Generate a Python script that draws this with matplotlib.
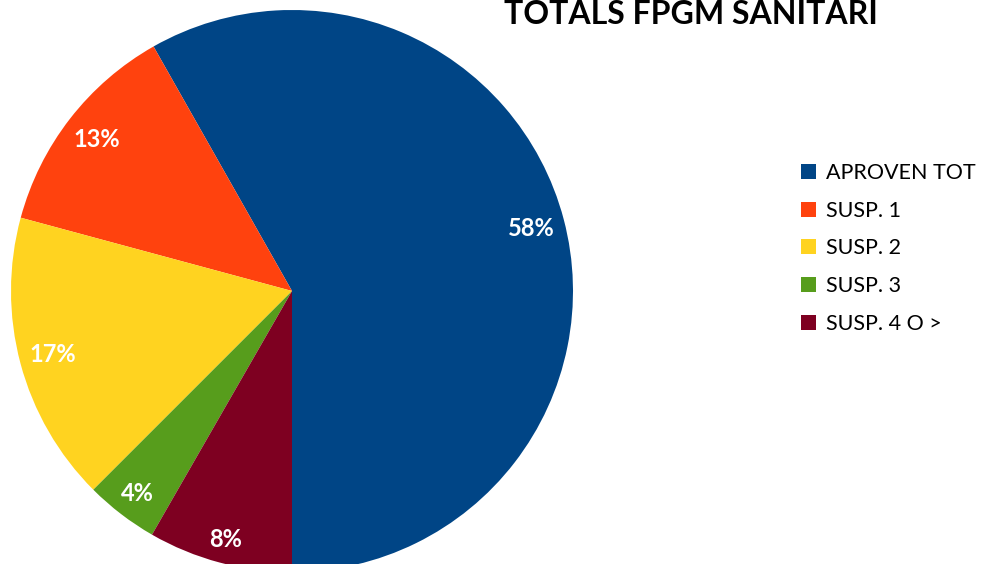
import matplotlib
matplotlib.use("Agg")
import matplotlib.pyplot as plt

categories = ["APROVEN TOT", "SUSP. 1", "SUSP. 2", "SUSP. 3", "SUSP. 4 O >"]
values = [58.2, 12.6, 16.7, 4.2, 8.3]
colors = ["#004586", "#FF420E", "#FFD320", "#579D1C", "#7E0021"]
title = "TOTALS FPGM SANITARI"

W, H = 985, 564
fig = plt.figure(figsize=(W / 100, H / 100), dpi=100)
cx, cy, r = 292, 291, 281
ax = fig.add_axes([(cx - r) / W, (H - cy - r) / H, 2 * r / W, 2 * r / H])

wedges, texts, autotexts = ax.pie(
    values, colors=colors, startangle=270, counterclock=True, radius=1,
    autopct=lambda p: f"{p:.0f}%", pctdistance=0.88,
    wedgeprops=dict(linewidth=0), textprops=dict(color="white", fontsize=17,
                                                  fontweight="bold", family="Lato"))
# small slices' labels sit a little further out
for t, f in zip(autotexts, [1.0, 1.0, 1.0, 1.03, 1.04]):
    x, y = t.get_position()
    t.set_position((x * f, y * f))

ax.set_xlim(-1, 1)
ax.set_ylim(-1, 1)
ax.set_aspect("equal")
ax.axis("off")
for w in wedges:
    w.set_clip_on(False)

fig.text(691 / W, 1 - 15 / H, title, ha="center", va="center",
         fontsize=23, fontweight="bold", family="Lato")

leg = fig.legend(wedges, categories, loc="upper left",
                 bbox_to_anchor=(801 / W, 1 - 163 / H), frameon=False,
                 prop=dict(family="Lato", size=15.5), handlelength=0.7,
                 handleheight=0.7, handletextpad=0.45, labelspacing=0.82,
                 borderpad=0, borderaxespad=0)

fig.savefig("out.png", dpi=100)
